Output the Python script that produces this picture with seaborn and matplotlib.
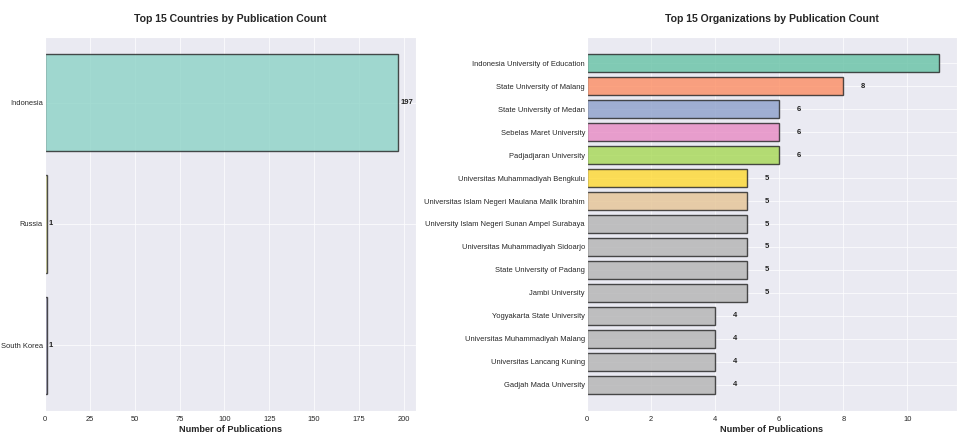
import pandas as pd
import matplotlib
matplotlib.use("Agg")
import matplotlib.pyplot as plt
import seaborn as sns

# Data
countries = ["Indonesia", "Russia", "South Korea"]
country_counts = [197, 1, 1]

organizations = [
    "Indonesia University of Education",
    "State University of Malang",
    "State University of Medan",
    "Sebelas Maret University",
    "Padjadjaran University",
    "Universitas Muhammadiyah Bengkulu",
    "Universitas Islam Negeri Maulana Malik Ibrahim",
    "University Islam Negeri Sunan Ampel Surabaya",
    "Universitas Muhammadiyah Sidoarjo",
    "State University of Padang",
    "Jambi University",
    "Yogyakarta State University",
    "Universitas Muhammadiyah Malang",
    "Universitas Lancang Kuning",
    "Gadjah Mada University",
]
org_counts = [11, 8, 6, 6, 6, 5, 5, 5, 5, 5, 5, 4, 4, 4, 4]

sns.set_style("darkgrid")
plt.rcParams["font.family"] = ["Liberation Sans", "DejaVu Sans"]

df_c = pd.DataFrame({"country": countries, "count": country_counts})
df_o = pd.DataFrame({"org": organizations, "count": org_counts})

set3 = sns.color_palette("Set3", len(countries))
set2 = sns.color_palette("Set2", 8)
org_colors = set2 + [set2[7]] * (len(organizations) - 8)

fig = plt.figure(figsize=(9.57, 4.34), dpi=100)
ax1 = fig.add_axes([45 / 957, 23 / 434, 371 / 957, 374 / 434])
ax2 = fig.add_axes([587 / 957, 23 / 434, 370 / 957, 374 / 434])


def draw(ax, df, ycol, colors, title, offset):
    sns.barplot(data=df, x="count", y=ycol, hue=ycol, palette=colors,
                legend=False, ax=ax, alpha=0.8, saturation=1,
                edgecolor="#222222", linewidth=1.0, width=0.8)
    # use plain matplotlib-style margins instead of categorical limits
    ax.autoscale(enable=True, axis="y")
    ax.margins(y=0.05)
    if not ax.yaxis_inverted():
        ax.invert_yaxis()
    for i, v in enumerate(df["count"]):
        ax.text(v + offset, i, str(v), va="center", ha="left",
                fontsize=5.5, fontweight="bold", color="#222222")
    ax.set_title(title, fontsize=7.6, fontweight="bold", pad=11)
    ax.set_xlabel("Number of Publications", fontsize=6.6, fontweight="bold",
                  labelpad=1.5)
    ax.set_ylabel("")
    ax.tick_params(axis="both", labelsize=5.4, length=0)
    ax.tick_params(axis="x", pad=3.5)
    ax.tick_params(axis="y", pad=1.5)
    ax.grid(True, color="white", linewidth=0.8, alpha=0.7)


draw(ax1, df_c, "country", set3, "Top 15 Countries by Publication Count", 1)
draw(ax2, df_o, "org", org_colors, "Top 15 Organizations by Publication Count", 0.55)

fig.savefig("out.png", dpi=100)
plt.close()
